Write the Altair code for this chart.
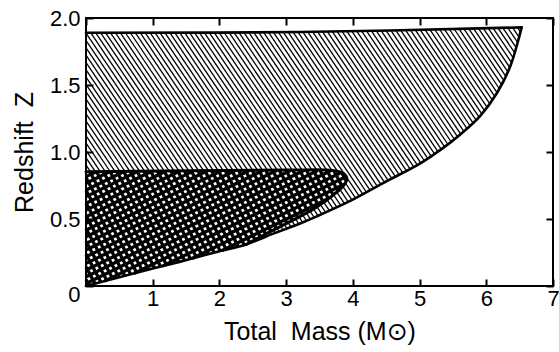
import numpy as np
import pandas as pd
import altair as alt

# ---- data ----
curve_mass = [0.0, 0.5, 1.0, 1.4, 1.7, 2.0, 2.4, 2.7, 3.2, 3.46, 3.96, 4.46, 4.96, 5.21, 5.46, 5.61, 5.91, 6.16, 6.36, 6.53]
curve_z = [0.0, 0.065, 0.13, 0.18, 0.22, 0.26, 0.31, 0.37, 0.465, 0.52, 0.635, 0.77, 0.90, 0.98, 1.07, 1.13, 1.27, 1.44, 1.64, 1.93]
top_mass = [0.0, 3.2, 6.53]
top_z = [1.89, 1.895, 1.93]
inner_low_mass = [2.4, 2.7, 3.21, 3.46, 3.71, 3.86, 3.91]
inner_low_z = [0.31, 0.39, 0.52, 0.59, 0.68, 0.75, 0.80]
inner_top_mass = [3.91, 3.86, 3.7, 3.0, 0.0]
inner_top_z = [0.80, 0.84, 0.862, 0.865, 0.853]

x_ticks = [0, 1, 2, 3, 4, 5, 6, 7]
y_ticks = [0, 0.5, 1.0, 1.5, 2.0]
x_title = "Total\u00a0 Mass (M\u2299)"
y_title = "Redshift\u00a0 Z"

W, H = 467, 268
SX, SY = W / 7.0, H / 2.0
FONT = "Liberation Sans, Arial, DejaVu Sans, sans-serif"

# ---- polygons (pixel-like units) for hatch clipping ----
outer_poly = np.array(list(zip(curve_mass, curve_z)) + list(zip(top_mass[::-1], top_z[::-1])))
cm = [m for m in curve_mass if m < inner_low_mass[0]]
cz = curve_z[:len(cm)]
inner_poly = np.array(list(zip(cm, cz)) + list(zip(inner_low_mass, inner_low_z)) +
                      list(zip(inner_top_mass[1:], inner_top_z[1:])))
outer_poly = outer_poly * [SX, SY]
inner_poly = inner_poly * [SX, SY]


def inside(px, py, poly):
    x, y = poly[:, 0], poly[:, 1]
    n = len(poly)
    res = np.zeros(px.shape, bool)
    j = n - 1
    for i in range(n):
        xi, yi, xj, yj = x[i], y[i], x[j], y[j]
        with np.errstate(divide="ignore", invalid="ignore"):
            cond = ((yi > py) != (yj > py)) & (px < (xj - xi) * (py - yi) / (yj - yi) + xi)
        res ^= cond
        j = i
    return res


def hatch(mask_fn, angle_deg, spacing, name):
    th = np.radians(angle_deg)
    d = np.array([np.cos(th), np.sin(th)])
    nrm = np.array([-np.sin(th), np.cos(th)])
    corners = np.array([[0, 0], [W, 0], [0, H], [W, H]], float)
    pr = corners @ nrm
    tp = corners @ d
    t = np.arange(tp.min() - 1, tp.max() + 1, 0.25)
    rows = []
    for c in np.arange(pr.min() + spacing / 2, pr.max(), spacing):
        pts = c * nrm[None, :] + t[:, None] * d[None, :]
        m = mask_fn(pts[:, 0], pts[:, 1]).astype(int)
        dm = np.diff(np.concatenate([[0], m, [0]]))
        starts = np.where(dm == 1)[0]
        ends = np.where(dm == -1)[0] - 1
        for s, e in zip(starts, ends):
            if e - s < 2:
                continue
            rows.append({"x": pts[s, 0] / SX, "y": pts[s, 1] / SY,
                         "x2": pts[e, 0] / SX, "y2": pts[e, 1] / SY, "g": name})
    return rows


outer_rows = hatch(lambda u, v: inside(u, v, outer_poly) & ~inside(u, v, inner_poly), -56, 4.1, "outer")
inner_rows = hatch(lambda u, v: inside(u, v, inner_poly), -62, 6.0, "in1") + \
    hatch(lambda u, v: inside(u, v, inner_poly), 26, 6.0, "in2")
outer_df = pd.DataFrame(outer_rows)
inner_df = pd.DataFrame(inner_rows)

# outlines
seg_rows = []
for i, (m, z) in enumerate(zip(curve_mass, curve_z)):
    seg_rows.append({"mass": m, "z": z, "seg": "a", "o": i})
for i, (m, z) in enumerate(zip(top_mass, top_z)):
    seg_rows.append({"mass": m, "z": z, "seg": "b", "o": i})
k = 0
for m, z in zip(inner_low_mass, inner_low_z):
    seg_rows.append({"mass": m, "z": z, "seg": "c", "o": k}); k += 1
for m, z in zip(inner_top_mass[1:], inner_top_z[1:]):
    seg_rows.append({"mass": m, "z": z, "seg": "c", "o": k}); k += 1
seg_df = pd.DataFrame(seg_rows)

xs = alt.Scale(domain=[0, 7], nice=False, zero=False)
ys = alt.Scale(domain=[0, 2], nice=False, zero=False)

common_axis = dict(offset=-7, tickSize=7, tickWidth=2, tickColor="black", domain=False, grid=False,
                   labelFont=FONT, labelFontSize=22, labelColor="black", labelFlush=False,
                   labelOverlap=False, titleFont=FONT, titleFontSize=25, titleFontWeight="normal",
                   titleColor="black")

outer_layer = alt.Chart(outer_df).mark_rule(color="black", strokeWidth=1.3).encode(
    x=alt.X("x:Q", scale=xs, axis=None), y=alt.Y("y:Q", scale=ys, axis=None), x2="x2", y2="y2")
inner_layer = alt.Chart(inner_df).mark_rule(color="black", strokeWidth=3.3).encode(
    x=alt.X("x:Q", scale=xs, axis=None), y=alt.Y("y:Q", scale=ys, axis=None), x2="x2", y2="y2")

line_outer = alt.Chart(seg_df[seg_df.seg != "c"]).mark_line(
    color="black", strokeWidth=2.6, interpolate="catmull-rom", strokeCap="round").encode(
    x=alt.X("mass:Q", scale=xs, axis=None), y=alt.Y("z:Q", scale=ys, axis=None),
    detail="seg:N", order="o:Q")
line_inner = alt.Chart(seg_df[seg_df.seg == "c"]).mark_line(
    color="black", strokeWidth=3, interpolate="catmull-rom", strokeCap="round").encode(
    x=alt.X("mass:Q", scale=xs, axis=None), y=alt.Y("z:Q", scale=ys, axis=None),
    detail="seg:N", order="o:Q")

tick_df = pd.DataFrame({"x": [0.0], "y": [0.0]})
axes_main = alt.Chart(tick_df).mark_point(opacity=0).encode(
    x=alt.X("x:Q", scale=xs, axis=alt.Axis(orient="bottom", values=x_ticks, title=x_title,
                                           labelExpr="datum.value == 0 ? '' : datum.label",
                                           labelPadding=2, titlePadding=10, **common_axis)),
    y=alt.Y("y:Q", scale=ys, axis=alt.Axis(orient="left", values=y_ticks, title=y_title,
                                           labelExpr="datum.value == 0 ? '0' : format(datum.value, '.1f')",
                                           labelPadding=6, titlePadding=12,
                                           labelOffset={"condition": {"test": "datum.value == 0", "value": 8}, "value": 0},
                                           **common_axis)))
axes_opp = alt.Chart(tick_df).mark_point(opacity=0).encode(
    x=alt.X("x:Q", scale=xs, axis=alt.Axis(orient="top", values=x_ticks, title=None, labels=False,
                                           offset=-7, tickSize=7, tickWidth=2, tickColor="black",
                                           domain=False, grid=False)),
    y=alt.Y("y:Q", scale=ys, axis=alt.Axis(orient="right", values=y_ticks, title=None, labels=False,
                                           offset=-7, tickSize=7, tickWidth=2, tickColor="black",
                                           domain=False, grid=False)))

chart = alt.layer(outer_layer, inner_layer, line_outer, line_inner, axes_main, axes_opp).resolve_axis(
    x="independent", y="independent"
).properties(
    width=W, height=H,
    padding={"left": 86, "top": 18, "right": 6, "bottom": 66},
    autosize=alt.AutoSizeParams(type="none"),
    background="white",
).configure_view(stroke="black", strokeWidth=2)

chart.save("out.html", embed_options={"renderer": "svg", "actions": False})
